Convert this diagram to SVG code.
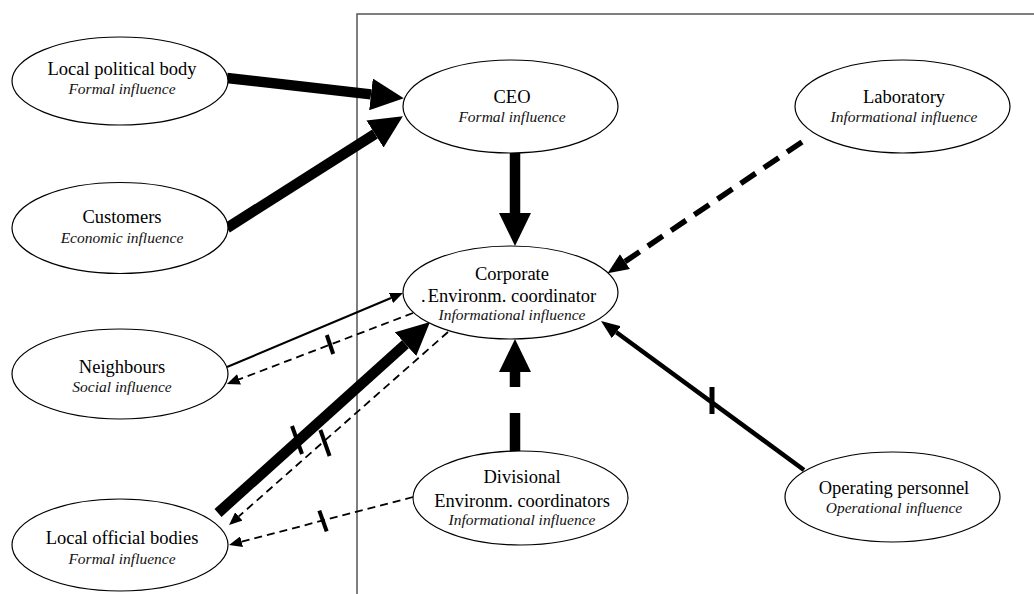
<svg xmlns="http://www.w3.org/2000/svg" width="1034" height="594" viewBox="0 0 1034 594">
  <style>
    .node ellipse { fill: #fff; stroke: #000; stroke-width: 1.2; }
    text { font-family: 'Liberation Serif', 'DejaVu Serif', serif; fill: #000; text-anchor: middle; }
    .name { font-size: 18.5px; }
    .kind { font-size: 15.5px; font-style: italic; fill: #111; }
    .frame { fill: none; stroke: #555; stroke-width: 1.5; }
    .thick { stroke: #000; stroke-width: 10.5; fill: none; }
    .solid { stroke: #000; stroke-width: 2; fill: none; }
    .solid-mid { stroke: #000; stroke-width: 4.5; fill: none; }
    .dash-thin { stroke: #000; stroke-width: 1.8; fill: none; stroke-dasharray: 8 5; }
    .dash-mid { stroke: #000; stroke-width: 5.5; fill: none; stroke-dasharray: 18 10; }
    .dash-thick { stroke: #000; stroke-width: 10.5; fill: none; stroke-dasharray: 38 26; }
    .tick { stroke: #000; stroke-width: 4; fill: none; }
  </style>
  <defs>
    <marker id="head-big" markerUnits="userSpaceOnUse" markerWidth="33" markerHeight="32" refX="0" refY="16" orient="auto">
      <path d="M0,0 L33,16 L0,32 z" fill="#000"/>
    </marker>
    <marker id="head-med" markerUnits="userSpaceOnUse" markerWidth="21" markerHeight="18" refX="0" refY="9" orient="auto">
      <path d="M0,0 L21,9 L0,18 z" fill="#000"/>
    </marker>
    <marker id="head-op" markerUnits="userSpaceOnUse" markerWidth="19" markerHeight="15" refX="0" refY="7.5" orient="auto">
      <path d="M0,0 L19,7.5 L0,15 z" fill="#000"/>
    </marker>
    <marker id="head-small" markerUnits="userSpaceOnUse" markerWidth="13" markerHeight="11" refX="0" refY="5.5" orient="auto">
      <path d="M0,0 L13,5.5 L0,11 z" fill="#000"/>
    </marker>
  </defs>

  <!-- organisation boundary -->
  <path class="frame" d="M357,594 V14 H1034"/>

  <!-- influence relations -->
  <g id="connectors">
    <!-- formal / economic pressure on the CEO -->
    <line class="thick" x1="227" y1="78" x2="371" y2="94.4" marker-end="url(#head-big)"/>
    <line class="thick" x1="227" y1="228" x2="375" y2="134" marker-end="url(#head-big)"/>
    <!-- CEO to corporate coordinator -->
    <line class="thick" x1="515" y1="153" x2="515" y2="213" marker-end="url(#head-big)"/>
    <!-- laboratory -->
    <line class="dash-mid" x1="802" y1="142" x2="625" y2="261.6" marker-end="url(#head-med)"/>
    <!-- operating personnel -->
    <line class="solid-mid" x1="804" y1="470" x2="616.3" y2="332.2" marker-end="url(#head-op)"/>
    <line class="tick" x1="712" y1="387" x2="712" y2="414" style="stroke-width:5"/>
    <!-- divisional coordinators -->
    <line class="dash-thick" x1="515" y1="451" x2="515" y2="372" marker-end="url(#head-big)"/>
    <!-- neighbours -->
    <line class="solid" x1="227" y1="367" x2="391" y2="298" marker-end="url(#head-small)"/>
    <line class="dash-thin" x1="413" y1="313" x2="239" y2="379.4" marker-end="url(#head-small)"/>
    <line class="tick" x1="326.8" y1="335" x2="333.2" y2="354"/>
    <!-- local official bodies -->
    <line class="thick" x1="218" y1="513" x2="405.5" y2="344.1" marker-end="url(#head-big)"/>
    <line class="tick" x1="292" y1="426" x2="302" y2="454"/>
    <line class="dash-thin" x1="448" y1="332" x2="238.8" y2="516.4" marker-end="url(#head-small)"/>
    <line class="tick" x1="320.4" y1="430" x2="329.6" y2="456"/>
    <line class="dash-thin" x1="413" y1="497" x2="241.6" y2="541.7" marker-end="url(#head-small)"/>
    <line class="tick" x1="319.3" y1="510.6" x2="326.7" y2="531.4"/>
  </g>

  <g id="local-political-body" class="node">
    <ellipse cx="120" cy="81" rx="108" ry="44"/>
    <text class="name" x="122" y="75">Local political body</text>
    <text class="kind" x="122" y="94">Formal influence</text>
  </g>

  <g id="customers" class="node">
    <ellipse cx="120" cy="228" rx="108" ry="45.5"/>
    <text class="name" x="122" y="223">Customers</text>
    <text class="kind" x="122" y="243">Economic influence</text>
  </g>

  <g id="neighbours" class="node">
    <ellipse cx="120" cy="374" rx="108" ry="45"/>
    <text class="name" x="122" y="373">Neighbours</text>
    <text class="kind" x="122" y="392">Social influence</text>
  </g>

  <g id="local-official-bodies" class="node">
    <ellipse cx="120" cy="545" rx="108" ry="46"/>
    <text class="name" x="122" y="544">Local official bodies</text>
    <text class="kind" x="122" y="564">Formal influence</text>
  </g>

  <g id="ceo" class="node">
    <ellipse cx="510.5" cy="106.5" rx="107.5" ry="46.5"/>
    <text class="name" x="512" y="103">CEO</text>
    <text class="kind" x="512" y="122">Formal influence</text>
  </g>

  <g id="laboratory" class="node">
    <ellipse cx="902.5" cy="106.5" rx="107.5" ry="46.5"/>
    <text class="name" x="904" y="103">Laboratory</text>
    <text class="kind" x="904" y="122">Informational influence</text>
  </g>

  <g id="corporate-coordinator" class="node">
    <ellipse cx="510.5" cy="292.5" rx="107.5" ry="46.5"/>
    <text class="name" x="512" y="280">Corporate</text>
    <text class="name" x="421" y="302" style="text-anchor:start">.</text>
    <text class="name" x="512" y="302">Environm. coordinator</text>
    <text class="kind" x="512" y="320">Informational influence</text>
  </g>

  <g id="divisional-coordinators" class="node">
    <ellipse cx="520.5" cy="498" rx="107.5" ry="47"/>
    <text class="name" x="522" y="483">Divisional</text>
    <text class="name" x="522" y="507">Environm. coordinators</text>
    <text class="kind" x="522" y="525">Informational influence</text>
  </g>

  <g id="operating-personnel" class="node">
    <ellipse cx="892.5" cy="497" rx="107.5" ry="45"/>
    <text class="name" x="894" y="494">Operating personnel</text>
    <text class="kind" x="894" y="513">Operational influence</text>
  </g>
</svg>
